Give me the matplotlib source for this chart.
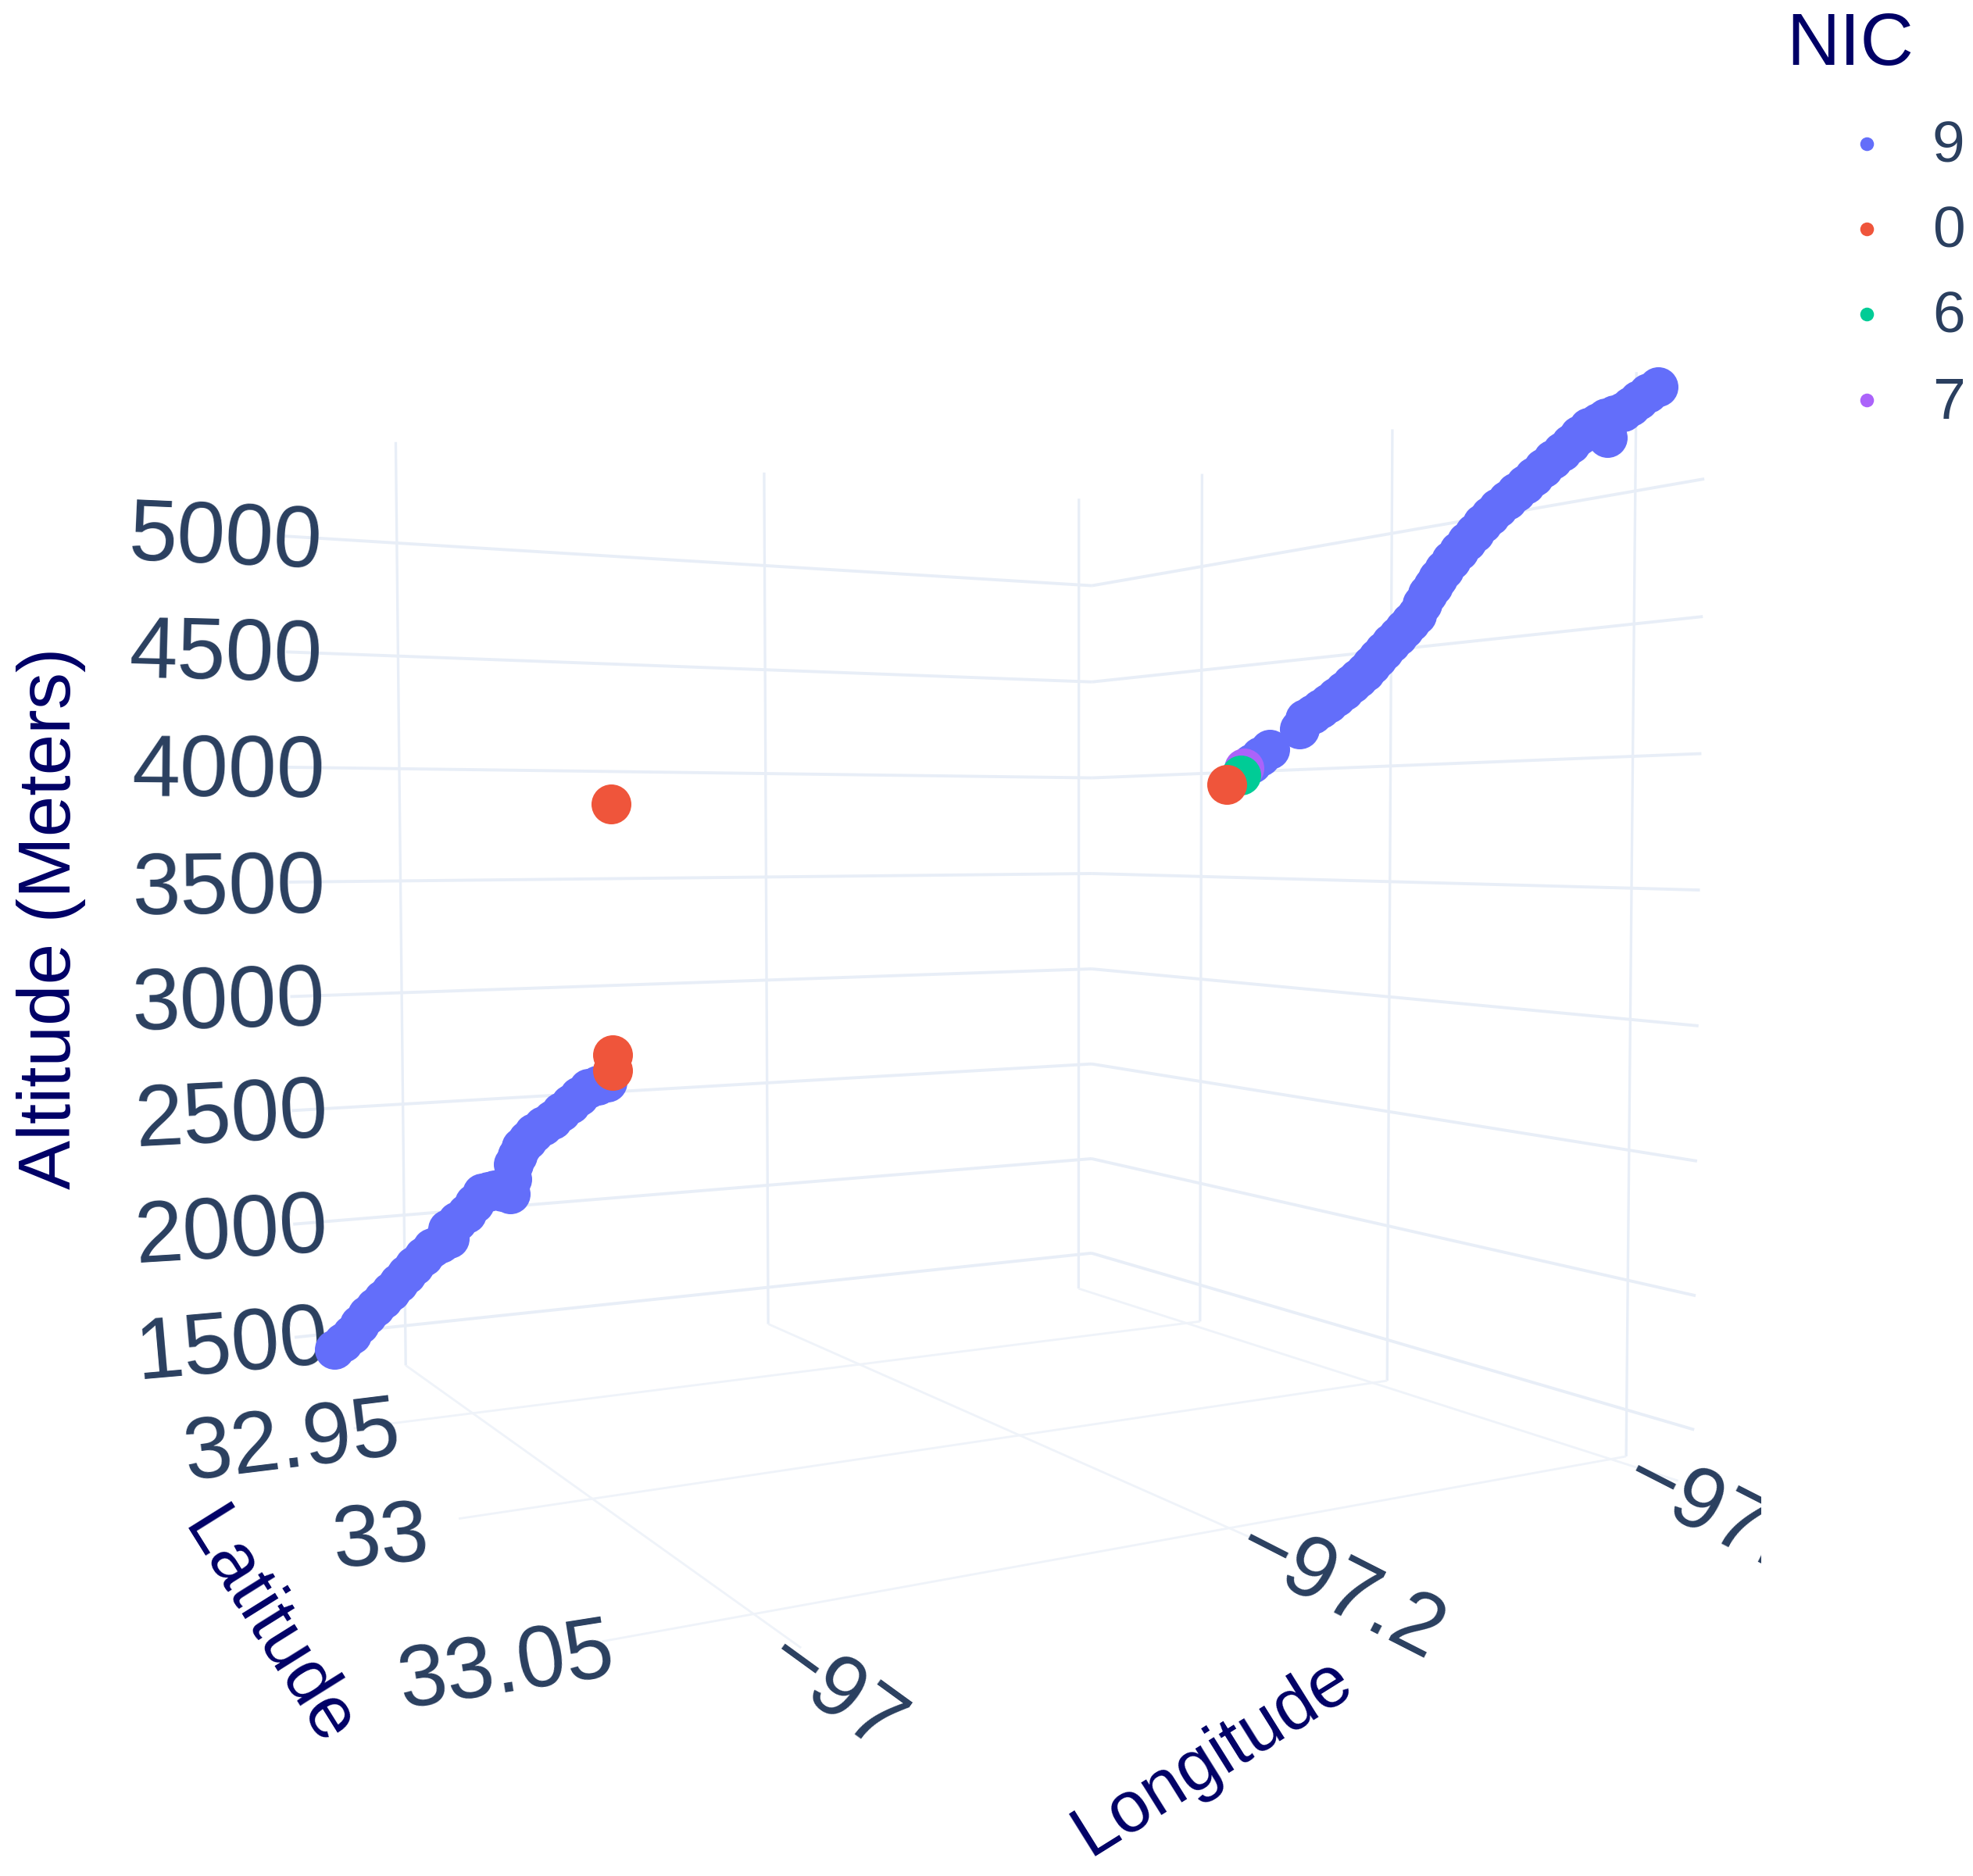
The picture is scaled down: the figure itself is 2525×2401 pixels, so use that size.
import matplotlib
matplotlib.use("Agg")
import matplotlib.pyplot as plt
import numpy as np
from matplotlib.transforms import Bbox

# flight points, one set of arrays per stretch of the track
lon_9a = [-96.9749,-96.9783,-96.9817,-96.9848,-96.9879,-96.9909,-96.9939,-96.9970,-97.0000,-97.0030,-97.0060,-97.0095,-97.0129,-97.0161,-97.0193,-97.0188,-97.0223,-97.0258,-97.0288,-97.0317,-97.0340,-97.0363,-97.0392,-97.0420,-97.0426,-97.0432,-97.0446,-97.0461,-97.0484,-97.0507,-97.0541,-97.0575,-97.0607,-97.0640,-97.0672,-97.0704,-97.0737,-97.0770]
lat_9a = [32.9016,32.9029,32.9042,32.9054,32.9066,32.9078,32.9090,32.9102,32.9113,32.9125,32.9137,32.9150,32.9164,32.9176,32.9189,32.9187,32.9200,32.9214,32.9225,32.9237,32.9246,32.9255,32.9266,32.9277,32.9280,32.9282,32.9287,32.9293,32.9302,32.9311,32.9324,32.9337,32.9350,32.9363,32.9375,32.9388,32.9400,32.9413]
alt_9a = [1343,1381,1419,1468,1516,1555,1594,1635,1675,1718,1760,1804,1848,1872,1896,1938,1976,2014,2062,2110,2119,2128,2122,2115,2182,2248,2288,2327,2360,2392,2424,2455,2492,2528,2564,2600,2616,2631]
lon_9b = [-97.2793,-97.2818,-97.2843,-97.2925,-97.2940,-97.2961,-97.2983,-97.3004,-97.3025,-97.3046,-97.3068,-97.3085,-97.3103,-97.3120,-97.3137,-97.3154,-97.3172,-97.3190,-97.3207,-97.3224,-97.3240,-97.3254,-97.3269,-97.3282,-97.3295,-97.3312,-97.3330,-97.3350,-97.3370,-97.3390,-97.3410,-97.3430,-97.3450,-97.3473,-97.3496,-97.3519,-97.3542,-97.3565,-97.3589,-97.3611,-97.3634,-97.3656,-97.3679,-97.3700,-97.3726,-97.3724,-97.3722,-97.3743,-97.3764,-97.3783,-97.3802,-97.3826,-97.3850]
lat_9b = [33.0201,33.0210,33.0220,33.0252,33.0258,33.0266,33.0275,33.0283,33.0291,33.0300,33.0308,33.0314,33.0321,33.0328,33.0334,33.0341,33.0348,33.0355,33.0362,33.0368,33.0375,33.0380,33.0386,33.0391,33.0396,33.0403,33.0410,33.0418,33.0425,33.0433,33.0441,33.0449,33.0457,33.0466,33.0475,33.0484,33.0492,33.0502,33.0511,33.0520,33.0528,33.0537,33.0546,33.0555,33.0564,33.0563,33.0562,33.0570,33.0579,33.0586,33.0594,33.0603,33.0612]
alt_9b = [3980,4006,4033,4109,4147,4166,4185,4206,4228,4252,4277,4298,4320,4346,4372,4399,4426,4452,4478,4503,4529,4568,4606,4634,4663,4695,4727,4760,4794,4826,4858,4886,4913,4940,4967,4994,5020,5050,5079,5106,5132,5160,5187,5202,5146,5182,5217,5226,5236,5255,5274,5296,5317]
lon_0 = [-97.0790,-97.0791,-97.0790,-97.2723]
lat_0 = [32.9421,32.9421,32.9421,33.0173]
alt_0 = [3838,2752,2683,3899]
lon_6 = [-97.2763]
lat_6 = [33.0189]
alt_6 = [3935]
lon_7 = [-97.2772]
lat_7 = [33.0192]
alt_7 = [3962]

lon_ticks = [-97.0, -97.2, -97.4]
lon_labels = ["\u221297", "\u221297.2", "\u221297.4"]
lat_ticks = [32.95, 33.0, 33.05]
lat_labels = ["32.95", "33", "33.05"]
alt_ticks = [1500, 2000, 2500, 3000, 3500, 4000, 4500, 5000]
legend_names = ["9", "0", "6", "7"]

# scene box
lon_min, lon_max = -97.409, -96.945
lat_min, lat_max = 32.915, 33.062
alt_min, alt_max = 1320, 5445

# camera worked out from where the grid crossings sit in the picture
CAM = np.array([[-623.13639, 58.10084, -5.65239, 1304.57705],
                [-101.76556, -143.99349, -329.07618, 1297.01924],
                [-0.0957, -0.13478, -0.00418, 1.0]])

def project(lon, lat, alt):
    lon, lat, alt = np.broadcast_arrays(np.asarray(lon, float), np.asarray(lat, float), np.asarray(alt, float))
    p = np.stack([(lon + 97.2) / 0.2, (lat - 33) / 0.05, (alt - 3000) / 1000, np.ones(lon.shape)])
    h = CAM @ p
    return h[0] / h[2], h[1] / h[2]

BLUE, RED, GREEN, PURPLE = "#636efa", "#ef553b", "#00cc96", "#ab63fa"
TICK = "#2a3f5f"
TITLE = "#000066"
GRID = "#e8eef7"
FLOOR = "#eff3f9"
FONT = "Liberation Sans"

fig = plt.figure(figsize=(25.25, 24.01), dpi=100)
ax = fig.add_axes([0, 0, 1, 1])
ax.set_xlim(0, 2525)
ax.set_ylim(2401, 0)
ax.axis("off")

def gridline(lon, lat, alt, lw=2.8, color=GRID):
    x, y = project(lon, lat, alt)
    ax.plot(x, y, color=color, lw=lw, zorder=1, solid_capstyle="butt")

# altitude lines on the two walls
for a in alt_ticks:
    gridline([lon_max, lon_min], lat_min, a)
    gridline(lon_min, [lat_min, lat_max], a)
# verticals
for lo in lon_ticks:
    gridline(lo, lat_min, [alt_min, alt_max], lw=2.4)
for la in lat_ticks:
    gridline(lon_min, la, [alt_min, alt_max], lw=2.4)
# floor
for lo in lon_ticks:
    gridline(lo, [lat_min, lat_max], alt_min, lw=2, color=FLOOR)
for la in lat_ticks:
    gridline([lon_min, lon_max], la, alt_min, lw=2, color=FLOOR)

# points
S = 1350
x, y = project(lon_9a, lat_9a, alt_9a)
ax.scatter(x, y, s=S, color=BLUE, linewidths=0, zorder=3)
x, y = project(lon_9b, lat_9b, alt_9b)
ax.scatter(x, y, s=S, color=BLUE, linewidths=0, zorder=3)
x, y = project(lon_7, lat_7, alt_7)
ax.scatter(x, y, s=S, color=PURPLE, linewidths=0, zorder=4)
x, y = project(lon_6, lat_6, alt_6)
ax.scatter(x, y, s=S, color=GREEN, linewidths=0, zorder=5)
x, y = project(lon_0, lat_0, alt_0)
ax.scatter(x, y, s=S, color=RED, linewidths=0, zorder=6)

# tick labels
alt_pos = [(297, 1725), (296, 1580), (296, 1432), (293, 1286), (293, 1140), (292, 990), (289, 840), (288, 692)]
alt_rot = [5, 3.5, 3, 1.5, 0.5, -0.5, -1.5, -2.5]
for a, (px, py), r in zip(alt_ticks, alt_pos, alt_rot):
    ax.text(px, py, str(a), fontsize=80, color=TICK, family=FONT, rotation=r, ha="center", va="center", zorder=2)

lat_pos = [(374, 1848), (488, 1972), (648, 2136)]
lat_rot = [7, 5, 9]
for t, (px, py), r in zip(lat_labels, lat_pos, lat_rot):
    ax.text(px, py, t, fontsize=80, color=TICK, family=FONT, rotation=r, ha="center", va="center")

ax.text(1067, 2168, lon_labels[0], fontsize=80, color=TICK, family=FONT, rotation=-36, ha="center", va="center")
ax.text(1714, 2037, lon_labels[1], fontsize=80, color=TICK, family=FONT, rotation=-27, ha="center", va="center")
t = ax.text(2085, 1885, lon_labels[2], fontsize=80, color=TICK, family=FONT, rotation=-27,
            ha="left", va="center", rotation_mode="anchor")
# the last label runs off the edge of the scene
t.set_clip_box(Bbox([[0, 0], [2254, 2401]]))
t.set_clip_on(True)

# axis titles
ax.text(66, 1175, "Altitude (Meters)", fontsize=68, color=TITLE, family=FONT, rotation=90, ha="center", va="center")
ax.text(342, 2084, "Latitude", fontsize=68, color=TITLE, family=FONT, rotation=-58, ha="center", va="center")
ax.text(1552, 2249, "Longitude", fontsize=66, color=TITLE, family=FONT, rotation=32, ha="center", va="center")

# legend
ax.text(2286, 58, "NIC", fontsize=68, color=TITLE, family=FONT, ha="left", va="center")
legend_y = [184, 293, 402, 512]
for name, c, ly in zip(legend_names, [BLUE, RED, GREEN, PURPLE], legend_y):
    ax.scatter([2389], [ly], s=160, color=c, linewidths=0)
    ax.text(2473, ly + 4, name, fontsize=54, color=TICK, family=FONT, ha="left", va="center")

fig.savefig("out.png", dpi=100, facecolor="white")
